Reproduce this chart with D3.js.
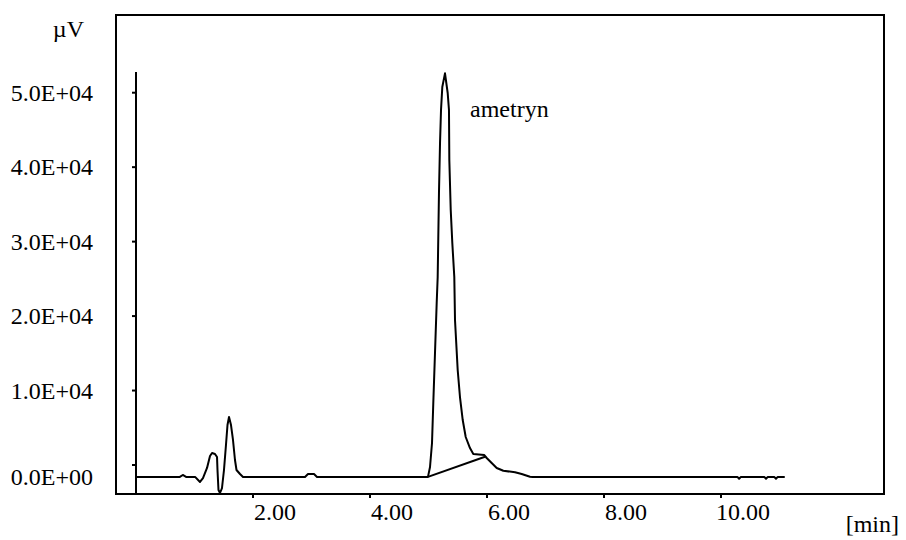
<!DOCTYPE html>
<html>
<head>
<meta charset="utf-8">
<script src="https://cdn.jsdelivr.net/npm/d3@7"></script>
<style>
	body { margin: 0; background: #ffffff; }
</style>
</head>
<body>
<div id="chromatogram_viz"></div>
<script>
// Retention times [min]:
var times = [0.00, 0.75, 0.80, 0.855, 1.01, 1.094, 1.145, 1.214, 1.265, 1.30, 1.35, 1.385, 1.393, 1.41, 1.436, 1.47, 1.504, 1.538, 1.564, 1.59, 1.624, 1.658, 1.692, 1.718, 1.778, 1.829,
	2.889, 2.94, 3.043, 3.094,
	4.991, 5.026, 5.06, 5.082, 5.111, 5.14, 5.157, 5.179, 5.197, 5.214, 5.236, 5.282, 5.328, 5.35, 5.356, 5.38, 5.407, 5.441, 5.453, 5.499, 5.538, 5.585, 5.636, 5.709, 5.766, 5.954, 5.995, 6.08, 6.166, 6.279, 6.479, 6.593, 6.735, 6.78,
	10.28, 10.31, 10.34, 10.74, 10.77, 10.80, 10.91, 10.94, 10.97, 11.09];

// Detector signal [µV]:
var signal = [-1600, -1600, -1340, -1600, -1600, -2280, -1750, -400, 1210, 1610, 1480, 1075, -670, -3360, -3760, -3090, -670, 2690, 5370, 6450, 5370, 3360, 670, -670, -1210, -1600,
	-1600, -1210, -1210, -1600,
	-1600, -270, 2950, 8330, 15040, 21760, 25250, 36530, 43250, 47680, 50770, 52600, 49960, 47680, 40960, 34250, 29810, 25250, 19470, 12760, 9130, 6040, 3760, 2280, 1480, 1340, 940, 270, -400, -770, -980, -1210, -1570, -1600,
	-1600, -1850, -1600, -1600, -1850, -1600, -1600, -1850, -1600, -1600];

// Integration baseline of the ametryn peak:
var peakBaseTimes = [4.991, 5.966];
var peakBaseSignal = [-1600, 1115];

// Axis ticks:
var yTicks = [0, 10000, 20000, 30000, 40000, 50000];
var yTickLabels = ["0.0E+00", "1.0E+04", "2.0E+04", "3.0E+04", "4.0E+04", "5.0E+04"];
var xTicks = [2, 4, 6, 8, 10];
var xTickLabels = ["2.00", "4.00", "6.00", "8.00", "10.00"];

var peakName = "ametryn";

var width = 906, height = 540;
var fontFamily = "'Liberation Serif', Tinos, 'Times New Roman', 'DejaVu Serif', serif";

// Create the SVG:
var svg = d3.select("#chromatogram_viz")
	.append("svg")
	.attr("width", width)
	.attr("height", height)
	.attr("font-family", fontFamily);

// Create the scales:
var xScale = d3.scaleLinear()
	.domain([0, 10])
	.range([136, 721]);

var yScale = d3.scaleLinear()
	.domain([0, 50000])
	.range([465, 92.7]);

// Outer frame:
svg.append("rect")
	.attr("x", 116)
	.attr("y", 15)
	.attr("width", 768)
	.attr("height", 479)
	.attr("fill", "none")
	.attr("stroke", "#000")
	.attr("stroke-width", 2);

// Signal axis (inner vertical line):
svg.append("line")
	.attr("x1", xScale(0))
	.attr("x2", xScale(0))
	.attr("y1", 72)
	.attr("y2", 494)
	.attr("stroke", "#000")
	.attr("stroke-width", 2);

// Y ticks and labels:
svg.append("g")
	.selectAll("line")
	.data(yTicks)
	.enter()
	.append("line")
	.attr("x1", xScale(0) - 4)
	.attr("x2", xScale(0))
	.attr("y1", function(d){ return yScale(d); })
	.attr("y2", function(d){ return yScale(d); })
	.attr("stroke", "#000")
	.attr("stroke-width", 2);

svg.append("g")
	.selectAll("text")
	.data(yTicks)
	.enter()
	.append("text")
	.attr("x", 93)
	.attr("y", function(d){
		// the zero label sits on the signal baseline
		return yScale(d) + 8 + (d == 0 ? 12 : 0);
	})
	.attr("text-anchor", "end")
	.attr("font-family", fontFamily)
	.attr("font-size", "24px")
	.text(function(d, i){ return yTickLabels[i]; });

// X ticks and labels:
svg.append("g")
	.selectAll("line")
	.data(xTicks)
	.enter()
	.append("line")
	.attr("x1", function(d){ return xScale(d); })
	.attr("x2", function(d){ return xScale(d); })
	.attr("y1", 494)
	.attr("y2", 498)
	.attr("stroke", "#000")
	.attr("stroke-width", 2);

svg.append("g")
	.selectAll("text")
	.data(xTicks)
	.enter()
	.append("text")
	.attr("x", function(d){ return xScale(d) + 22; })
	.attr("y", 520)
	.attr("text-anchor", "middle")
	.attr("font-family", fontFamily)
	.attr("font-size", "24px")
	.text(function(d, i){ return xTickLabels[i]; });

// Axis units:
svg.append("text")
	.attr("x", 84)
	.attr("y", 37)
	.attr("text-anchor", "end")
	.attr("font-family", fontFamily)
	.attr("font-size", "24px")
	.text("µV");

svg.append("text")
	.attr("x", 899)
	.attr("y", 532)
	.attr("text-anchor", "end")
	.attr("font-family", fontFamily)
	.attr("font-size", "24px")
	.text("[min]");

// Chromatogram trace:
var line = d3.line()
	.x(function(d){ return xScale(d[0]); })
	.y(function(d){ return yScale(d[1]); });

svg.append("path")
	.datum(d3.zip(times, signal))
	.attr("d", line)
	.attr("fill", "none")
	.attr("stroke", "#000")
	.attr("stroke-width", 2)
	.attr("stroke-linejoin", "round");

svg.append("path")
	.datum(d3.zip(peakBaseTimes, peakBaseSignal))
	.attr("d", line)
	.attr("fill", "none")
	.attr("stroke", "#000")
	.attr("stroke-width", 2);

// Peak label:
svg.append("text")
	.attr("x", 470)
	.attr("y", 117)
	.attr("font-family", fontFamily)
	.attr("font-size", "24px")
	.text(peakName);
</script>
</body>
</html>
